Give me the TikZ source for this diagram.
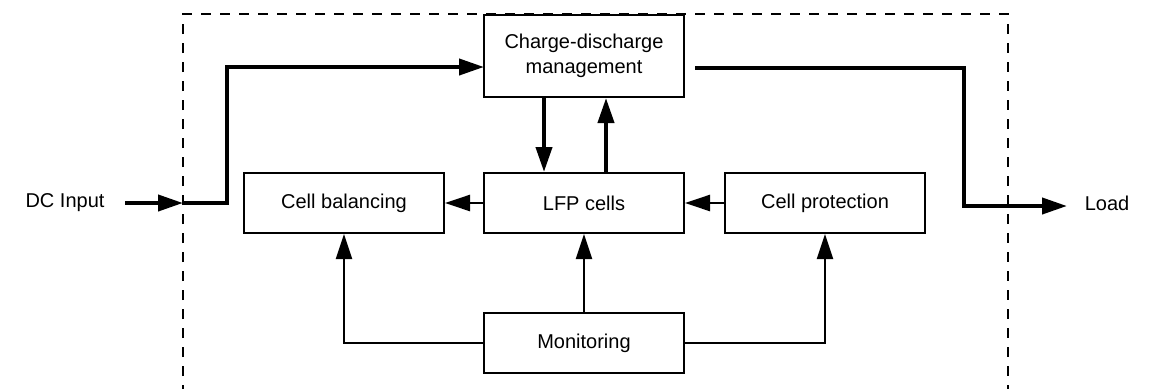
\documentclass[tikz,border=0pt]{standalone}
\usepackage{fontspec}
\setmainfont{Liberation Sans}
\usetikzlibrary{arrows.meta}
\begin{document}
\begin{tikzpicture}[x=1bp,y=-1bp,
  box/.style={draw, line width=2bp, minimum width=200bp, minimum height=60bp, inner sep=0pt,
    font=\fontsize{20bp}{25bp}\selectfont, align=center},
  lbl/.style={font=\fontsize{20bp}{25bp}\selectfont, inner sep=0pt},
  bigarrow/.style={line width=4bp, -{Triangle[length=25bp,width=16bp]}},
  smallarrow/.style={line width=2.5bp, -{Triangle[length=25bp,width=16bp]}},
  monarrow/.style={line width=2bp, -{Triangle[length=25bp,width=16bp]}},
  boundary/.style={line width=2.2bp, dash pattern=on 10bp off 9bp}]
\useasboundingbox (0,0) rectangle (1149,388);
\clip (0,0) rectangle (1149,388);

% system boundary
\draw[boundary] (183,395) -- (183,14) -- (1008,14) -- (1008,395);

% boxes
\node[box, fill=white, minimum height=82bp] (cd) at (584,56) {Charge-discharge\\management};
\node[box] (cb) at (344,203) {Cell balancing};
\node[box] (lfp) at (584,203) {LFP cells};
\node[box] (cp) at (825,203) {Cell protection};
\node[box] (mon) at (584,343) {Monitoring};

% outer labels
\node[lbl] (dc) at (65,203) {DC Input};
\node[lbl] (load) at (1107,203) {Load};

% coordinates
\coordinate (inA) at (125,203);
\coordinate (inB) at (183,203);
\coordinate (inC) at (227,203);
\coordinate (inD) at (484,67);
\coordinate (outA) at (695,68);
\coordinate (outB) at (964,68);
\coordinate (outC) at (1067,206);

% input path
\draw[bigarrow] (inA) -- (inB);
\draw[bigarrow] (inB) -- (inC) |- (inD);

% output path
\draw[bigarrow] (outA) -- (outB) |- (outC);

% CD <-> LFP
\draw[bigarrow] (cd.south -| 544,0) -- (lfp.north -| 544,0);
\draw[bigarrow] (lfp.north -| 606,0) -- (cd.south -| 606,0);

% middle row
\draw[smallarrow] (lfp.west) -- (cb.east);
\draw[smallarrow] (cp.west) -- (lfp.east);

% monitoring
\draw[monarrow] (mon.north) -- (lfp.south);
\draw[monarrow] (mon.west) -| (cb.south);
\draw[monarrow] (mon.east) -| (cp.south);
\end{tikzpicture}
\end{document}
